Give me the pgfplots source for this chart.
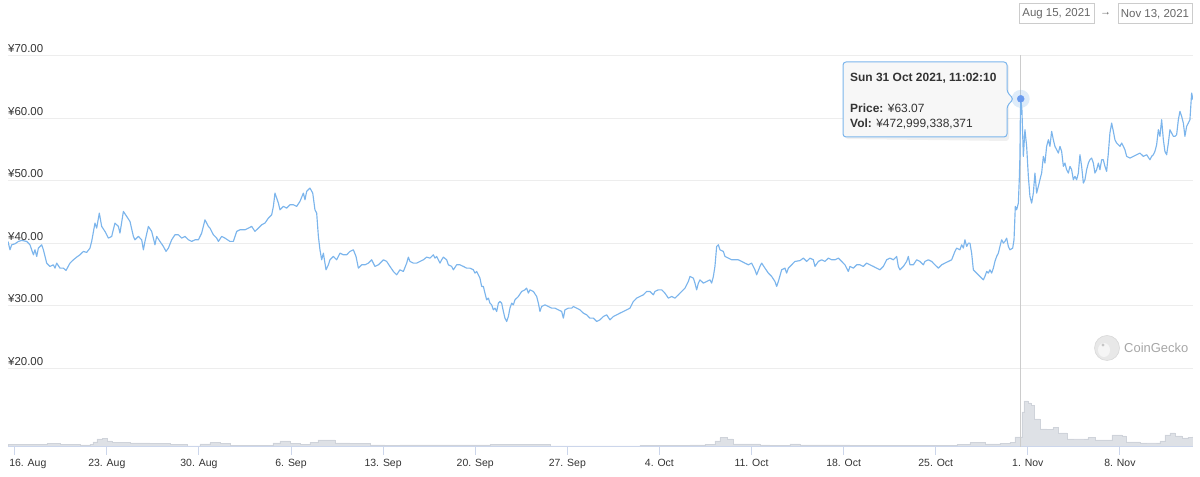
\documentclass[border=0pt]{standalone}
\usepackage{fontspec}
\setmainfont{Liberation Sans}
\usepackage{pgfplots}
\pgfplotsset{compat=1.18}
\usepackage{pgfplotstable}
\definecolor{pline}{HTML}{7CB5EC}
\definecolor{gridc}{HTML}{EDEDED}
\definecolor{axisc}{HTML}{CCD6EB}
\definecolor{txt}{HTML}{333333}
\definecolor{volc}{HTML}{DEE1E6}
\definecolor{voledge}{HTML}{CFD3DA}
\definecolor{tipbg}{HTML}{F7F7F7}
\definecolor{boxtxt}{HTML}{666666}
\definecolor{wm}{HTML}{A6A6A6}
\definecolor{crossc}{HTML}{CCCCCC}

\pgfplotstableread{
day price
0.49 40.27
0.64 38.93
0.77 39.73
1.02 39.89
1.28 40.27
1.53 40.43
1.91 40.27
2.16 39.73
2.42 38.13
2.54 38.93
2.67 37.87
2.80 39.20
3.05 39.73
3.18 38.93
3.43 36.80
3.68 36.27
3.94 36.53
4.06 36.00
4.19 36.80
4.44 36.00
4.70 36.00
4.90 35.63
5.20 36.80
5.46 37.33
5.71 37.76
5.96 38.13
6.22 38.67
6.47 38.51
6.72 39.20
6.85 40.27
7.10 43.20
7.23 42.40
7.43 44.80
7.61 42.67
7.86 41.87
8.12 40.80
8.37 41.07
8.62 43.20
8.88 42.67
9.00 41.60
9.26 45.07
9.51 44.27
9.76 43.47
10.02 41.07
10.14 40.53
10.40 41.07
10.65 40.53
10.78 38.93
10.90 40.27
11.16 42.67
11.41 41.87
11.66 39.73
11.79 41.07
12.04 40.27
12.30 39.47
12.50 38.67
12.68 39.20
12.93 40.53
13.18 41.33
13.44 41.33
13.69 40.80
13.94 41.07
14.20 40.53
14.45 40.27
14.70 40.53
14.96 40.53
15.21 41.60
15.46 43.73
15.72 42.67
15.84 42.40
16.10 41.33
16.35 40.80
16.48 40.27
16.73 41.07
16.98 40.80
17.36 40.27
17.62 40.27
17.87 41.87
18.12 42.13
18.50 42.13
18.76 42.40
19.01 42.67
19.26 41.87
19.52 42.40
19.77 42.93
20.02 43.20
20.28 44.00
20.53 44.53
20.66 45.87
20.78 48.00
21.04 46.40
21.16 45.33
21.42 45.87
21.67 45.60
21.92 46.13
22.18 46.13
22.43 45.87
22.68 46.67
22.94 48.00
23.06 46.93
23.19 48.27
23.44 48.80
23.65 48.00
23.82 45.33
23.95 44.80
24.08 41.07
24.20 38.93
24.33 37.33
24.46 38.40
24.66 35.73
24.84 36.53
24.96 37.33
25.22 37.87
25.47 37.33
25.72 38.40
25.98 38.13
26.23 38.13
26.48 38.67
26.74 38.93
26.94 37.87
27.12 36.00
27.37 36.53
27.62 36.53
27.88 36.80
28.13 37.33
28.38 36.27
28.64 36.53
29.02 37.33
29.27 37.07
29.52 36.27
29.78 35.47
30.03 34.93
30.28 35.73
30.54 35.47
30.79 36.80
30.92 37.76
31.04 37.07
31.30 36.80
31.55 36.80
31.80 37.07
32.06 37.33
32.31 37.76
32.56 37.60
32.82 38.13
32.94 37.60
33.07 37.87
33.32 36.80
33.45 37.33
33.58 37.76
33.83 37.33
33.96 36.53
34.21 36.27
34.34 35.73
34.59 36.53
34.84 36.53
35.10 36.27
35.35 36.00
35.60 36.00
35.86 35.73
35.98 35.20
36.11 35.47
36.36 34.40
36.49 33.07
36.62 33.07
36.74 32.00
36.87 30.93
37.00 31.20
37.12 30.40
37.25 30.13
37.38 29.33
37.50 29.60
37.63 29.07
37.76 30.40
37.88 30.67
38.01 30.40
38.14 29.07
38.26 28.00
38.39 27.47
38.52 28.27
38.64 29.60
38.77 30.40
38.90 30.13
39.02 30.93
39.28 31.47
39.53 32.27
39.78 32.53
39.91 32.80
40.04 32.00
40.16 32.53
40.42 32.27
40.67 31.47
40.80 30.40
40.92 29.07
41.05 29.87
41.30 30.13
41.56 29.87
41.81 29.60
42.06 29.60
42.32 29.33
42.57 29.07
42.70 28.00
42.82 29.33
43.08 29.60
43.33 29.60
43.46 29.87
43.71 29.60
43.96 29.33
44.22 28.80
44.47 28.53
44.72 28.00
44.98 28.00
45.23 27.47
45.48 27.73
45.74 28.27
45.99 28.53
46.24 27.73
46.50 28.27
46.75 28.53
47.00 28.80
47.26 29.07
47.51 29.33
47.76 29.60
48.02 30.67
48.27 31.20
48.52 31.47
48.78 31.73
49.03 32.27
49.28 32.27
49.54 31.73
49.66 32.27
49.92 32.53
50.17 32.53
50.42 32.00
50.68 31.20
50.93 31.47
51.18 31.20
51.44 31.73
51.69 32.27
51.94 32.80
52.20 33.87
52.32 34.67
52.58 34.40
52.70 33.60
52.83 32.53
52.96 33.60
53.08 34.13
53.34 33.60
53.59 33.87
53.84 34.13
53.97 33.60
54.10 34.67
54.22 36.27
54.35 39.47
54.48 39.73
54.60 38.93
54.86 38.67
54.98 37.87
55.24 37.60
55.49 37.33
55.74 37.33
56.00 37.33
56.25 37.07
56.50 36.80
56.76 36.53
57.01 36.80
57.26 35.73
57.39 34.93
57.64 36.27
57.77 36.80
58.02 36.00
58.28 35.20
58.53 34.67
58.78 33.87
58.91 33.07
59.04 33.87
59.29 35.73
59.54 36.00
59.67 35.20
59.80 36.00
60.05 36.53
60.30 37.07
60.68 37.20
60.94 37.60
61.19 37.07
61.44 37.60
61.70 37.33
61.82 36.27
62.08 37.07
62.33 37.33
62.58 37.07
62.84 37.60
63.09 37.33
63.34 37.33
63.60 37.60
63.85 37.07
64.10 36.53
64.36 35.47
64.48 36.27
64.74 36.00
64.99 36.53
65.24 36.53
65.50 36.27
65.75 36.80
66.00 36.53
66.26 36.27
66.51 36.00
66.76 35.73
67.02 36.27
67.27 37.33
67.52 37.60
67.78 37.33
68.03 37.87
68.16 36.27
68.28 35.73
68.54 36.27
68.79 37.07
68.92 37.87
69.04 36.53
69.30 36.53
69.55 37.33
69.80 37.07
70.06 36.53
70.18 37.07
70.44 37.33
70.69 37.07
70.94 36.53
71.20 36.00
71.45 36.53
71.70 36.80
71.96 37.07
72.21 37.33
72.46 38.67
72.59 39.20
72.84 38.93
72.97 39.73
73.10 39.20
73.22 40.53
73.35 39.47
73.48 40.00
73.60 40.00
73.73 38.40
73.86 35.73
73.98 35.47
74.11 35.20
74.36 34.67
74.49 34.40
74.62 34.13
74.74 34.67
74.87 35.47
75.00 35.20
75.12 35.73
75.25 35.20
75.38 36.00
75.50 37.07
75.63 37.87
75.76 38.40
75.88 39.47
76.01 40.53
76.14 40.00
76.26 40.27
76.39 40.80
76.52 39.47
76.64 38.93
76.85 39.20
76.95 40.53
77.05 45.87
77.15 45.33
77.28 46.40
77.35 50.13
77.40 53.87
77.43 59.73
77.46 63.07
77.55 61.33
77.66 53.87
77.78 58.13
77.91 55.47
78.04 50.67
78.16 47.47
78.29 46.40
78.42 48.00
78.54 51.20
78.67 48.00
78.80 49.07
78.92 50.13
79.05 51.20
79.18 53.87
79.30 52.80
79.43 55.47
79.56 56.53
79.68 55.47
79.81 57.87
79.94 56.53
80.06 55.47
80.19 54.93
80.32 54.40
80.44 55.47
80.57 54.67
80.70 52.27
80.82 52.80
80.95 51.73
81.08 51.20
81.20 52.27
81.33 51.73
81.46 50.13
81.58 50.67
81.71 50.13
81.84 51.20
81.96 54.13
82.09 52.27
82.22 49.60
82.34 50.13
82.47 51.73
82.60 52.80
82.72 53.33
82.85 53.60
82.98 52.80
83.10 51.20
83.23 51.73
83.36 52.80
83.48 51.73
83.61 53.33
83.74 53.33
83.86 52.27
83.99 51.47
84.12 54.40
84.24 57.60
84.37 59.20
84.50 57.87
84.62 56.53
84.75 56.00
84.88 55.73
85.00 55.47
85.13 56.00
85.26 55.47
85.38 54.93
85.51 53.87
85.76 53.60
86.02 53.87
86.27 54.13
86.52 54.40
86.78 53.87
87.03 54.13
87.28 53.33
87.41 53.87
87.54 54.13
87.66 54.67
87.79 55.73
87.92 58.13
88.04 57.07
88.17 59.73
88.30 56.53
88.42 54.67
88.55 54.13
88.68 56.00
88.80 58.13
88.93 57.60
89.06 57.07
89.18 57.07
89.31 57.33
89.44 59.73
89.56 61.07
89.69 60.27
89.82 59.20
89.94 57.07
90.07 58.67
90.20 59.20
90.32 59.73
90.45 64.00
90.55 62.93
}\pricetable

\pgfplotstableread{
day vol
0.49 118
2.16 128
3.45 175
3.91 175
4.44 128
5.96 95
6.72 118
6.95 237
7.25 378
7.64 411
8.02 284
8.40 203
9.76 189
11.28 156
12.80 109
14.09 47
15.08 142
15.84 203
16.60 156
17.36 80
19.64 80
20.63 189
21.16 284
21.92 166
22.68 128
23.44 213
24.05 331
24.58 331
25.34 189
26.48 156
28.00 95
29.14 71
30.28 95
34.84 95
37.12 109
40.16 109
41.68 47
47.00 47
48.52 80
52.32 95
53.46 128
54.22 284
54.60 440
55.14 378
55.59 142
57.64 95
58.40 80
59.92 142
60.68 95
64.48 80
68.28 80
70.56 57
72.61 118
73.60 203
74.74 142
75.88 175
76.64 213
77.02 473
77.40 473
77.55 1656
77.70 2176
78.01 2081
78.24 1972
78.46 1324
78.92 851
79.45 837
79.91 913
80.29 662
80.97 378
81.96 378
82.57 440
83.10 331
84.09 331
84.39 568
85.15 520
85.46 237
86.52 189
87.51 189
88.04 284
88.42 568
88.80 662
89.18 520
89.71 426
90.17 449
90.55 553
}\voltable

\begin{document}
\begin{tikzpicture}[x=1bp,y=1bp]
\path (0,0) rectangle (1200,477);

% volume (separate scale)
\begin{axis}[at={(8bp,30bp)}, anchor=south west, scale only axis,
  width=1185bp, height=391.5bp,
  xmin=0.49, xmax=90.55, ymin=0, ymax=18500, hide axis]
\addplot[const plot, fill=volc, draw=voledge, line width=0.6bp]
  table[x=day,y=vol]{\voltable} \closedcycle;
\end{axis}

% price
\begin{axis}[at={(8bp,30bp)}, anchor=south west, scale only axis,
  width=1185bp, height=391.5bp,
  xmin=0.49, xmax=90.55, ymin=7.4, ymax=70,
  axis x line*=bottom, axis y line*=left,
  y axis line style={draw=none},
  x axis line style={draw=axisc, line width=1bp, -},
  ytick={20,30,40,50,60,70},
  yticklabels={¥20.00,¥30.00,¥40.00,¥50.00,¥60.00,¥70.00},
  ymajorgrids, grid style={draw=gridc, line width=1bp},
  ytick style={draw=none},
  yticklabel style={anchor=south west, inner sep=0pt, text=txt,
    font=\fontsize{11.5}{13}\selectfont, yshift=2.5bp, xshift=8bp},
  xtick={1,8,15,22,29,36,43,50,57,64,71,78,85},
  xticklabels={{\makebox[0pt][l]{\hspace*{-5.4bp}16. Aug}},23. Aug,30. Aug,6. Sep,13. Sep,20. Sep,27. Sep,4. Oct,11. Oct,18. Oct,25. Oct,1. Nov,8. Nov},
  xtick style={draw=axisc, line width=1bp},
  tick align=outside, major tick length=8bp,
  xticklabel style={anchor=north, inner sep=0pt, text=txt, yshift=-4bp,
    font=\fontsize{10.5}{12}\selectfont},
]
\addplot[draw=crossc, line width=1bp] coordinates {(77.46,7.4) (77.46,70)};
\addplot[pline, line width=1.15bp, line join=round] table[x=day,y=price]{\pricetable};
\addplot[only marks, mark=*, mark size=9bp, color=pline, opacity=0.25, mark options={draw opacity=0}] coordinates {(77.46,63.07)};
\addplot[only marks, mark=*, mark size=3.5bp, color=pline!85!blue] coordinates {(77.46,63.07)};
\end{axis}

% tooltip
\fill[black, opacity=0.06, rounded corners=3bp] (845,338) -- (845,413) -- (1009,413) -- (1009,336) -- cycle;
\draw[pline, fill=tipbg, line width=1bp, rounded corners=3bp]
  (843,340) -- (843,415) -- (1007,415) -- (1007,385) -- (1013.5,378) -- (1007,371) -- (1007,340) -- cycle;
\node[anchor=base west, inner sep=0pt, text=txt, font=\fontsize{12}{14}\selectfont\bfseries] at (850,395) {Sun 31 Oct 2021, 11:02:10};
\node[anchor=base west, inner sep=0pt, text=txt, font=\fontsize{12}{14}\selectfont] at (850,364.5) {\textbf{Price:} ¥63.07};
\node[anchor=base west, inner sep=0pt, text=txt, font=\fontsize{12}{14}\selectfont] at (850,349.5) {\textbf{Vol:} ¥472,999,338,371};

% date range boxes
\draw[crossc, line width=1bp] (1019,453) rectangle (1094,473);
\node[text=boxtxt, inner sep=0pt, font=\fontsize{11.5}{13}\selectfont] at (1056.5,463) {Aug 15, 2021};
\node[text=boxtxt, inner sep=0pt, font=\fontsize{11}{13}\selectfont] at (1105.5,463) {→};
\draw[crossc, line width=1bp] (1118,453) rectangle (1192,473);
\node[text=boxtxt, inner sep=0pt, font=\fontsize{11.5}{13}\selectfont] at (1155,463) {Nov 13, 2021};

% watermark
\fill[gray!18] (1107,129) circle (12.5);
\draw[gray!30, line width=0.6bp] (1107,129) circle (12.5);
\fill[gray!8] (1104,127) ellipse (6 and 7);
\fill[gray!45] (1103,132) circle (1.6);
\node[anchor=base west, inner sep=0pt, text=wm, font=\fontsize{13}{15}\selectfont] at (1124,124) {CoinGecko};
\end{tikzpicture}
\end{document}
